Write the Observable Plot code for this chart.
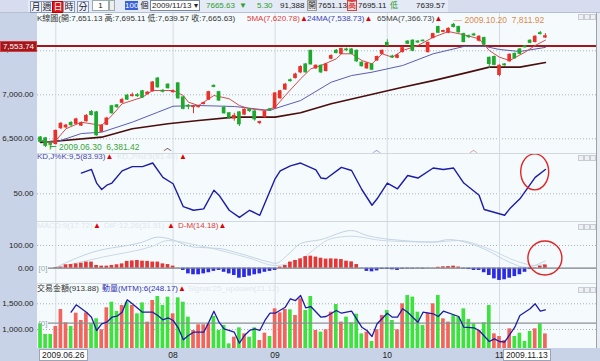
<!DOCTYPE html>
<html><head><meta charset="utf-8">
<script src="https://cdn.jsdelivr.net/npm/d3@7"></script>
<script src="https://cdn.jsdelivr.net/npm/@observablehq/plot@0.6"></script>
<style>
body{margin:0;background:#fff;}
#wrap{position:relative;width:600px;height:361px;overflow:hidden;background:#f5fbfd;font-family:"Liberation Sans","Noto Sans CJK TC",Arial,sans-serif;font-size:8px;color:#222;}
.a{position:absolute;white-space:nowrap;line-height:10px;}
.btn{position:absolute;top:1px;height:10px;width:10px;border:1px solid #8a98b8;background:#eef2fa;font-size:9px;line-height:10px;text-align:center;color:#223;}
.ico{position:absolute;width:4px;height:4px;border:1px solid #c8ccd4;background:#eef0f4;}
svg{position:absolute;left:0;}
</style></head><body><div id="wrap"></div>
<script>
// ---------- data ----------
const openP  = [6515,6505,6440,6440,6620,6630,6680,6670,6650,6700,6805,6800,6580,6660,6870,6880,6910,6990,6985,6995,7040,7010,7040,7185,7045,7115,7030,7130,6970,6875,6860,6860,6895,6945,7100,7030,6850,6790,6730,6800,6775,6830,6810,6680,6745,6835,6845,6960,7060,7165,7190,7255,7345,7500,7300,7330,7270,7410,7500,7465,7515,7515,7500,7365,7300,7345,7390,7465,7590,7435,7420,7485,7605,7615,7605,7615,7485,7645,7770,7715,7705,7795,7770,7690,7665,7685,7615,7645,7420,7430,7225,7345,7380,7465,7515,7550,7615,7600,7700,7651.13];
const highP  = [6525,6515,6470,6600,6685,6665,6695,6735,6690,6775,6820,6810,6660,6745,6880,6890,6960,7005,7020,7015,7050,7035,7150,7195,7060,7125,7055,7135,6980,6890,6880,6880,6915,7040,7115,7040,6870,6800,6790,6810,6840,6845,6820,6700,6815,6845,7025,7050,7130,7180,7245,7330,7355,7505,7340,7340,7355,7455,7515,7530,7530,7525,7510,7375,7365,7355,7440,7510,7625,7450,7460,7545,7615,7625,7615,7625,7600,7700,7780,7735,7760,7811.92,7780,7700,7680,7700,7670,7655,7430,7440,7340,7355,7465,7475,7525,7560,7625,7670,7720,7695.11];
const lowP   = [6455,6400,6381.42,6430,6605,6615,6640,6660,6640,6690,6760,6530,6570,6650,6780,6845,6900,6935,6975,6970,6960,7000,7030,7075,7020,7065,7020,6950,6830,6830,6785,6850,6885,6935,7080,6925,6780,6720,6700,6640,6765,6800,6700,6660,6735,6815,6840,6950,7050,7145,7180,7240,7245,7340,7290,7240,7260,7400,7465,7455,7495,7455,7370,7315,7290,7275,7380,7455,7550,7415,7410,7475,7570,7490,7585,7600,7475,7635,7695,7705,7695,7760,7700,7590,7640,7665,7600,7560,7300,7330,7205,7325,7370,7405,7455,7530,7580,7590,7680,7639.57];
const closeP = [6465,6420,6432,6590,6670,6650,6655,6720,6675,6760,6770,6540,6650,6730,6790,6860,6940,6945,6995,6985,6970,7025,7140,7085,7035,7075,7040,6960,6840,6865,6870,6870,6905,7030,7090,6935,6790,6740,6760,6665,6830,6815,6720,6690,6805,6825,7015,7040,7115,7155,7230,7315,7255,7345,7330,7255,7345,7440,7475,7520,7505,7465,7380,7325,7355,7285,7430,7500,7560,7425,7445,7530,7580,7500,7595,7610,7590,7690,7705,7725,7750,7770,7710,7600,7655,7675,7660,7570,7350,7340,7330,7335,7455,7415,7465,7540,7590,7660,7690,7665.63];
const ma5  = [[0,6490],[1,6470],[2,6455],[3,6481],[5,6614],[8,6689],[12,6651],[14,6765],[16,6898],[20,6973],[22,7049],[26,7049],[28,6992],[29,6916],[31,6878],[34,6992],[37,6955],[39,6878],[41,6841],[44,6822],[46,6859],[48,6992],[51,7182],[53,7295],[55,7333],[58,7409],[59,7466],[61,7466],[63,7390],[65,7352],[67,7466],[69,7427],[71,7503],[74,7560],[77,7654],[80,7719],[83,7682],[86,7636],[88,7503],[90,7427],[92,7390],[95,7484],[97,7560],[99,7620.78]];
const ma24 = [[0,6470],[3,6462],[8,6560],[12,6575],[18,6689],[23,6802],[26,6870],[31,6878],[38,6867],[45,6822],[46,6844],[51,6935],[57,7143],[61,7219],[65,7257],[71,7333],[77,7466],[83,7549],[87,7552],[90,7515],[94,7492],[99,7538.73]];
const ma65 = [[0,6458],[12,6518],[18,6614],[25,6671],[31,6708],[38,6746],[46,6746],[51,6796],[57,6898],[64,6992],[71,7086],[77,7162],[84,7257],[88,7314],[94,7314],[99,7366.73]];
const kdK  = [[8,79],[10,84],[11,65],[12,56],[13,62],[14,65],[16,82],[18,88],[20,88],[22,93],[24,73],[26,64],[28,32],[30,27],[32,29],[34,55],[35,48],[37,27],[39,17],[41,27],[43,20],[46,71],[47,82],[49,89],[51,93],[54,83.5],[55,72],[56,71],[59,87],[61,82.5],[63,56],[65,34],[66,43],[68,65],[70,57],[72,75.5],[74,72],[77,86],[79,84],[81,86],[83,65],[86,48],[87,28],[91,20],[92,29],[94,43],[97,73],[99,83.93]];
const macdHist = [null,null,null,3,4.5,15,16,19,22,27,27,12,9,9,12,15,19,30,32,34,31,30,27,27,19,16,9,1,-10,-25,-29,-29,-25,-20,-14,-10,-18,-25,-32,-44,-41,-35,-29,-25,-18,-14,-10,5,12,27,34,41,51,53,49,44,40,41,40,38,31,28,16,-1,-14,-16,-12,-5,-5,-7,-10,-4,-3,-3,-2,-3,-1,1,4,6,7,9,5,-3,-6,-10,-10,-20,-32,-47,-54,-51,-44,-37,-29,-18,-6,2,9,14.18];
const difLine  = [[3,4],[10,69],[20,115],[23,137],[25,131],[30,93],[35,87],[39,65],[45,26],[46,21],[49,70],[51,109],[55,126],[61,166],[64,144],[71,122],[77,115],[80,126],[87,85],[92,26],[95,4],[99,31.91]];
const macdLine = [[3,2],[12,48],[22,97],[25,122],[31,100],[41,44],[46,12],[51,41],[57,130],[61,141],[67,122],[77,115],[82,122],[87,93],[94,26],[97,12],[99,17.72]];
const amount = [1110,903,903,1058,1389,1130,1058,1317,1175,1324,1110,1208,994,1422,1531,1350,1467,1531,1467,1305,1518,1143,1564,1642,1467,1629,1305,1616,1531,1240,980,1091,1091,1110,1253,980,1078,720,850,1032,915,850,1032,785,928,863,1402,1324,1389,1383,1272,1597,1370,1642,980,948,994,1337,1486,1143,1240,1130,1298,915,948,766,994,1272,1370,1175,994,1499,1661,1629,1337,1078,1317,1499,1661,1208,1143,1272,1240,1402,1195,1110,980,1130,1467,915,863,785,1013,863,928,766,961,1013,1110,913.88];
const amountUp = [0,0,0,1,1,1,0,1,1,1,0,0,1,1,0,0,1,0,1,0,0,1,1,0,0,0,1,0,0,0,1,1,1,1,0,0,0,0,1,0,1,0,0,1,1,0,1,1,1,0,1,1,0,0,1,0,1,1,0,1,0,0,0,0,1,0,1,1,0,0,1,1,0,0,0,0,1,1,0,1,1,0,0,0,0,0,1,0,0,1,1,1,1,0,0,0,0,1,0,1];
const mtm = [[6,204],[7,340],[9,204],[10,111],[11,-135],[12,-11],[13,19],[14,111],[15,130],[16,204],[17,433],[18,359],[20,204],[22,204],[23,143],[24,63],[25,100],[26,50],[27,-85],[28,-307],[29,-228],[30,-167],[31,-167],[32,-167],[33,19],[34,222],[35,19],[36,-104],[38,-167],[39,-370],[40,-228],[41,-135],[42,-104],[43,-135],[44,50],[45,185],[46,185],[48,296],[49,452],[50,420],[51,513],[52,285],[53,309],[55,111],[56,124],[58,235],[59,185],[61,222],[63,-74],[64,-135],[65,-246],[66,-11],[68,185],[69,111],[70,111],[71,267],[72,204],[74,19],[75,204],[77,174],[78,124],[79,222],[82,124],[83,-74],[85,-85],[86,-135],[88,-339],[89,-289],[90,-339],[91,-352],[93,-74],[94,143],[96,267],[97,359],[98,222],[99,248.17]];
const monthIdx = [3,26,46,68,90];
const monthLbl = ["07","08","09","10","11"];
const priceTicks = [6500,7000,7500];
const kdTicks = [50];
const macdTicks = [0,100];
const amtTicks = [1000,1500];
const lastLine = 7553.74;
const firstDate = "2009.06.26", lastDate = "2009.11.13";
const lowInfo = {i:2, v:6381.42, date:"2009.06.30"};
const highInfo = {i:81, v:7811.92, date:"2009.10.20"};

// ---------- build ----------
const wrap = document.getElementById("wrap");
const fmt = d3.format(",.2f");
const bars = d3.range(openP.length).map(i => ({i, o:openP[i], h:highP[i], l:lowP[i], c:closeP[i], up: closeP[i] >= openP[i]}));
const pts = a => a.map(([i,v]) => ({i,v}));
const XD = [-0.59, 109.02];
const RED="#e8312a", GRN="#1ea82c";
function cfg(h, ydom, marks){
  return {width:600,height:h,marginLeft:37,marginRight:4,marginTop:0,marginBottom:0,
    x:{domain:XD,axis:null,label:null}, y:{domain:ydom,axis:null,label:null},
    style:{background:"transparent",fontSize:"8px",fontFamily:"Liberation Sans, Arial, sans-serif",color:"#222",overflow:"visible"},
    marks};
}
function place(svg, top){ svg.style.top = top+"px"; wrap.appendChild(svg); return svg; }
function div(html, css){ const d=document.createElement("div"); d.className="a"; d.style.cssText=css; d.innerHTML=html; wrap.appendChild(d); return d; }
const axY = (t) => Plot.axisY(t,{tickSize:0,tickPadding:4,tickFormat:fmt,fill:"#222",fontSize:8,label:null});
const grid = (t) => Plot.gridY(t,{stroke:"#aab2ba",strokeOpacity:1,strokeDasharray:"1,2"});
const vgrid = Plot.ruleX(monthIdx,{stroke:"#d4dbe2"});

// left margin & bottom strip backgrounds
div("", "left:0;top:13px;width:37px;height:335px;background:#c9d3e7;");
div("", "left:0;top:348px;width:600px;height:13px;background:#c9d3e7;");

// price panel
const pricePlot = place(Plot.plot(cfg(140,[6333,7924],[
  grid(priceTicks), vgrid,
  Plot.ruleY([lastLine],{stroke:"#a3161a",strokeWidth:2}),
  Plot.line(pts(ma65),{x:"i",y:"v",stroke:"#4a0e0e",strokeWidth:1.7}),
  Plot.line(pts(ma24),{x:"i",y:"v",stroke:"#5c5cb4",strokeWidth:1}),
  Plot.line(pts(ma5),{x:"i",y:"v",stroke:"#d24c4c",strokeWidth:1}),
  Plot.ruleX(bars,{x:"i",y1:"l",y2:"h",stroke:d=>d.up?RED:GRN,strokeWidth:1}),
  Plot.rect(bars,{x1:d=>d.i-0.36,x2:d=>d.i+0.36,y1:"o",y2:"c",fill:d=>d.up?RED:GRN,insetTop:-0.5,insetBottom:-0.5}),
  Plot.text([lowInfo],{x:"i",y:"v",text:d=>"⊢ "+d.date+"  "+fmt(d.v),textAnchor:"start",dx:-2,dy:-2,fill:"#3aa53a",fontSize:8.5}),
  Plot.text([highInfo],{x:"i",y:"v",text:d=>"— "+d.date+"  "+fmt(d.v),textAnchor:"start",dx:0,dy:-3,fill:"#e0884c",fontSize:8.5}),
  axY([6500,7000])
])), 13);

// KD panel
const kdPlot = place(Plot.plot(cfg(68,[11.3,106.3],[
  grid(kdTicks), vgrid,
  Plot.line(pts(kdK),{x:"i",y:"v",stroke:"#1c1ca6",strokeWidth:1.4}),
  axY(kdTicks)
])), 153);

// MACD panel
const macdData = macdHist.map((v,i)=>({i,v})).filter(d=>d.v!=null);
const macdPlot = place(Plot.plot(cfg(62,[-67.4,205.7],[
  grid([100]), vgrid,
  Plot.line(pts(macdLine),{x:"i",y:"v",stroke:"#cbd9e6",strokeWidth:1,curve:"monotone-x"}),
  Plot.line(pts(difLine),{x:"i",y:"v",stroke:"#c4d3e2",strokeWidth:1,curve:"monotone-x"}),
  Plot.rect(macdData,{x1:d=>d.i-0.36,x2:d=>d.i+0.36,y1:0,y2:"v",fill:d=>d.v>=0?"#e63535":"#2b2be6"}),
  Plot.ruleY([0],{stroke:"#7a7f86",strokeWidth:1.2,insetLeft:11}),
  Plot.text([0],{y:d=>d,frameAnchor:"left",dx:1,text:()=>"[0]",textAnchor:"start",fill:"#9aa",fontSize:8}),
  axY(macdTicks)
])), 221);

// amount panel
const amtData = amount.map((v,i)=>({i,v,up:amountUp[i]}));
const amtPlot = place(Plot.plot(cfg(65,[630,1895],[
  grid(amtTicks), vgrid,
  Plot.rect(amtData,{x1:d=>d.i-0.36,x2:d=>d.i+0.36,y1:0,y2:"v",fill:d=>d.up?"#f2645c":"#3ee23e",clip:true}),
  axY(amtTicks)
])), 283);
// MTM overlay (own scale)
const mtmPlot = place(Plot.plot(cfg(65,[-468.5,735],[
  Plot.ruleY([0],{stroke:"#8a9096",strokeWidth:1.2,insetLeft:11}),
  Plot.text([0],{y:d=>d,frameAnchor:"left",dx:1,text:()=>"[0]",textAnchor:"start",fill:"#9aa",fontSize:8}),
  Plot.line(pts(mtm),{x:"i",y:"v",stroke:"#1c1ca6",strokeWidth:1.3})
])), 283);

// bottom x axis
const axPlot = place(Plot.plot({width:600,height:13,marginLeft:37,marginRight:4,marginTop:0,marginBottom:0,
  x:{domain:XD,label:null}, style:{background:"transparent",fontSize:"8px",fontFamily:"Liberation Sans, Arial, sans-serif",color:"#222"},
  marks:[Plot.axisX(monthIdx.slice(1),{anchor:"top",tickSize:0,tickPadding:-9,tickFormat:d=>monthLbl[monthIdx.indexOf(d)],fill:"#222",fontSize:8.5,label:null})]
}), 348);

// scales for overlays
const xs = pricePlot.scale("x"), yp = pricePlot.scale("y"), yk = kdPlot.scale("y"), ym = macdPlot.scale("y");
// partly hidden 7,500.00 tick label (behind the last-price box, as in the reference)
div(fmt(7500), `right:${600-33}px;top:${13+yp.apply(7500)-5}px;color:#222;font-size:8px;`);
// date boxes
div(firstDate, `left:${xs.apply(0)-1}px;top:349px;background:#fff;border:1px solid #9aa6b8;padding:0 2px;line-height:10px;font-size:8.5px;color:#222;`);
div(lastDate, `left:${xs.apply(99)-42}px;top:349px;background:#fff;border:1px solid #9aa6b8;padding:0 2px;line-height:10px;font-size:8.5px;color:#222;`);
// last price box
div(fmt(lastLine), `left:0px;top:${13+yp.apply(lastLine)-5}px;width:35px;height:9px;background:#a3161a;color:#fff;border:1px solid #d04040;line-height:9px;font-size:8px;text-align:center;`);

// red circles
const ns="http://www.w3.org/2000/svg";
function ell(svg,cx,cy,rx,ry){ const e=document.createElementNS(ns,"ellipse"); e.setAttribute("cx",cx);e.setAttribute("cy",cy);e.setAttribute("rx",rx);e.setAttribute("ry",ry);e.setAttribute("fill","none");e.setAttribute("stroke","#e02424");e.setAttribute("stroke-width","1.4"); svg.appendChild(e);}
ell(kdPlot, xs.apply(97), yk.apply(80), 14, 18);
ell(macdPlot, xs.apply(99), ym.apply(43), 17, 17);

// headers
const tri = '<span style="color:#e00000">▲</span>';
div('K線圖(開:7,651.13 高:7,695.11 低:7,639.57 收:7,665.63)', "left:37px;top:14px;color:#333;");
div('5MA(7,620.78)'+tri, "left:247px;top:14px;color:#e03a3a;");
div('24MA(7,538.73)'+tri, "left:307px;top:14px;color:#3c3cbc;");
div('65MA(7,366.73)'+tri, "left:377px;top:14px;color:#444;");
div('KD,J%K:9,5(83.93)'+tri, "left:37px;top:152px;color:#4a44b0;");
div('KD,J%d:9(81.46)', "left:117px;top:152px;color:#dfe7ef;");
div(tri, "left:179px;top:152px;");
div('MACD:9(17.72)', "left:37px;top:221px;color:#dfe7ef;");
div(tri, "left:93px;top:221px;");
div('DIF:12,26(31.91)', "left:104px;top:221px;color:#dfe7ef;");
div(tri, "left:167px;top:221px;");
div('D-M(14.18)'+tri, "left:178px;top:221px;color:#e03a3a;");
div('交易金額(913.88)', "left:37px;top:284px;color:#333;");
div('動量(MTM):6(248.17)'+tri, "left:102px;top:284px;color:#3434b4;");
div('Signal:25_updown(21.12)', "left:188px;top:284px;color:#dfe7ef;");
// panel separators
[153,221,283].forEach(t=>div("", `left:37px;top:${t}px;width:559px;height:1px;background:#d2d8de;`));
div("", "left:596px;top:13px;width:1px;height:335px;background:#9aa2ac;");
div("", "left:597px;top:13px;width:3px;height:335px;background:#e8ecf2;");
// panel icons
[14,155,224,287].forEach(t=>{[578,584,590].forEach(l=>{const d=document.createElement("div");d.className="ico";d.style.left=l+"px";d.style.top=t+"px";wrap.appendChild(d);});});
// caret marks
div('︿', `left:${xs.apply(25)-4}px;top:143px;color:#5a2a2a;font-size:8px;`);
div('︿', `left:${xs.apply(66)-4}px;top:145px;color:#8a86c8;font-size:8px;`);
div('︿', `left:${xs.apply(85)-4}px;top:145px;color:#d48a8a;font-size:8px;`);

// toolbar
div("", "left:0;top:0;width:600px;height:13px;background:#d7dcef;border-bottom:1px solid #b8bfd4;box-sizing:border-box;");
div("", "left:28px;top:0;width:420px;height:12px;background:#e4eaf6;");
const btns=[["月",30],["週",41],["日",52],["時",63],["分",77]];
btns.forEach(([t,l])=>{const d=document.createElement("div");d.className="btn";d.style.left=l+"px";d.textContent=t;if(t==="日"){d.style.background="#e01414";d.style.color="#fff";d.style.borderColor="#b00";}wrap.appendChild(d);});
div('<span style="border:1px solid #9aa;background:#fff;padding:0 3px;">&nbsp;1&nbsp;</span><span style="border:1px solid #9aa;background:#eee;">&nbsp;&nbsp;</span>', "left:92px;top:1px;font-size:8px;");
div('<span style="background:#3a62d8;color:#fff;">100</span> 個', "left:125px;top:1px;font-size:8px;");
div('<span style="border:1px solid #7a869a;background:#fff;padding:0 1px;">2009/11/13 ▾</span>', "left:150px;top:1px;font-size:8px;");
div('<span style="color:#2ea02e">7665.63</span>', "left:206px;top:1px;font-size:8px;");
div('<span style="color:#2ea02e">▼</span>', "left:239px;top:1px;font-size:8px;");
div('<span style="color:#2ea02e">5.30</span>', "left:257px;top:1px;font-size:8px;");
div('91,388', "left:280px;top:1px;font-size:8px;color:#222;");
div('<span style="border:1px solid #999;background:#eee;">開</span>', "left:307px;top:1px;font-size:8px;");
div('7651.13', "left:318px;top:1px;font-size:8px;");
div('<span style="border:1px solid #c44;background:#fdd;color:#c00;">高</span>', "left:347px;top:1px;font-size:8px;");
div('7695.11', "left:358px;top:1px;font-size:8px;");
div('<span style="color:#2a9a2a;">低</span>', "left:390px;top:1px;font-size:8px;");
div('7639.57', "left:416px;top:1px;font-size:8px;");
</script></body></html>
